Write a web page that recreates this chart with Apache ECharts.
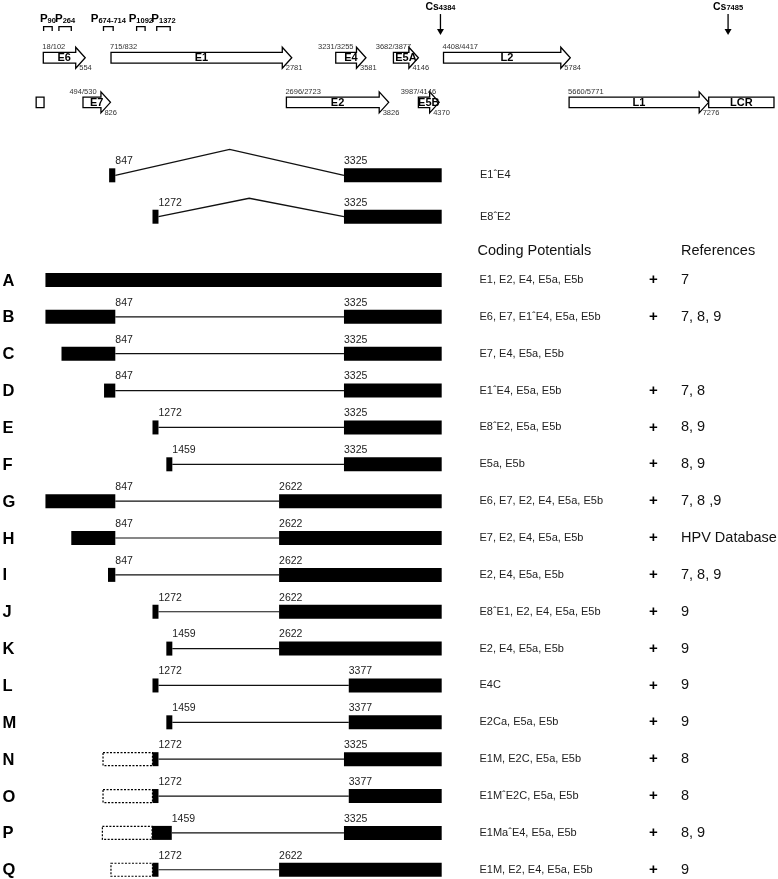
<!DOCTYPE html>
<html>
<head>
<meta charset="utf-8">
<script src="https://cdn.jsdelivr.net/npm/echarts@6/dist/echarts.min.js"></script>
<style>
html,body{margin:0;padding:0;background:#fff;}
#chart{width:778px;height:879px;}
</style>
</head>
<body>
<div id="chart"></div>
<script>
// ================= DATA =================
// Promoters (genome positions of the bracket marks)
const promoterLabels = ['90', '264', '674-714', '1092', '1372'];
const promoterStart  = [70, 236, 719, 1078, 1296];
const promoterEnd    = [163, 370, 824, 1170, 1442];

// Polyadenylation cleavage sites
const cleavageSites = [4384, 7485];

// Genome map features (ORFs and regions), track 0 = upper, track 1 = lower
const orfNames       = ['E6', 'E1', 'E4', 'E5A', 'L2', '', 'E7', 'E2', 'E5B', 'L1', 'LCR'];
const orfTrack       = [0, 0, 0, 0, 0, 1, 1, 1, 1, 1, 1];
const orfStart       = [102, 832, 3255, 3877, 4417, 25, 530, 2723, 4146, 5771, 7276];
const orfEnd         = [554, 2781, 3581, 4146, 5784, 110, 826, 3826, 4370, 7276, 7980];
const orfStartLabels = ['18/102', '715/832', '3231/3255', '3682/3877', '4408/4417', '', '494/530', '2696/2723', '3987/4146', '5660/5771', ''];
const orfEndLabels   = ['554', '2781', '3581', '4146', '5784', '', '826', '3826', '4370', '7276', ''];

// Splice junction diagrams
const spliceNames  = ['E1ˆE4', 'E8ˆE2'];
const spliceExons  = [
  [[780, 847], [3325, 4384]],
  [[1250, 1272], [3325, 4384]]
];

// Transcripts A–Q
const transcriptIds = ['A','B','C','D','E','F','G','H','I','J','K','L','M','N','O','P','Q'];
const transcriptExons = [
  [[90, 4384]],
  [[90, 847], [3325, 4384]],
  [[264, 847], [3325, 4384]],
  [[725, 847], [3325, 4384]],
  [[1250, 1272], [3325, 4384]],
  [[1400, 1459], [3325, 4384]],
  [[90, 847], [2622, 4384]],
  [[370, 847], [2622, 4384]],
  [[768, 847], [2622, 4384]],
  [[1250, 1272], [2622, 4384]],
  [[1400, 1459], [2622, 4384]],
  [[1250, 1272], [3377, 4384]],
  [[1400, 1459], [3377, 4384]],
  [[1250, 1272], [3325, 4384]],
  [[1250, 1272], [3377, 4384]],
  [[1245, 1459], [3325, 4384]],
  [[1250, 1272], [2622, 4384]]
];
// Putative (dashed) upstream regions
const transcriptDashed = [null, null, null, null, null, null, null, null, null, null, null, null, null,
  [714, 1250], [714, 1250], [707, 1245], [800, 1250]];

const codingPotentials = [
  'E1, E2, E4, E5a, E5b',
  'E6, E7, E1ˆE4, E5a, E5b',
  'E7, E4, E5a, E5b',
  'E1ˆE4, E5a, E5b',
  'E8ˆE2, E5a, E5b',
  'E5a, E5b',
  'E6, E7, E2, E4, E5a, E5b',
  'E7, E2, E4, E5a, E5b',
  'E2, E4, E5a, E5b',
  'E8ˆE1, E2, E4, E5a, E5b',
  'E2, E4, E5a, E5b',
  'E4C',
  'E2Ca, E5a, E5b',
  'E1M, E2C, E5a, E5b',
  'E1MˆE2C, E5a, E5b',
  'E1MaˆE4, E5a, E5b',
  'E1M, E2, E4, E5a, E5b'
];
const references = ['7', '7, 8, 9', '', '7, 8', '8, 9', '8, 9', '7, 8 ,9', 'HPV Database', '7, 8, 9',
  '9', '9', '9', '9', '8', '8', '8, 9', '9'];
const headerLabels = ['Coding Potentials', 'References'];

// ================= LAYOUT / STYLE =================
const W = 778, H = 879;
const FONT = "'Liberation Sans', Arial, Helvetica, sans-serif";
const ROW0_PX = 280, ROW_STEP = 36.86;
const Y_MIN = -ROW0_PX / ROW_STEP, Y_MAX = (H - ROW0_PX) / ROW_STEP;
const TX_OFF = 37.14, TX_SCALE = 0.09228;   // transcript axis
const MAP_OFF = 33.84, MAP_SCALE = 0.09275; // genome map axis

const Y_CS_LABEL = -7.265, Y_CS_TOP = -7.215, Y_CS_TIP = -6.647;
const Y_PROM_LABEL = -6.93, Y_BRACKET_TOP = -6.872, Y_BRACKET_BOT = -6.755;
const TRACK_Y = [-6.03, -4.82];
const SPLICE_Y = [-2.84, -1.717];
const SPLICE_PEAK = [0.705, 0.5];
const HEADER_Y = -0.795;

const EXON_H = 14, MIN_EXON_W = 6;
const BODY_H = 10.6, HEAD_H = 21, HEAD_L = 9.5;
const X_LETTER = 2.5, X_CODING = 479.5, X_PLUS = 653.5, X_REF = 681;

function txt(x, y, text, font, align, valign, fill) {
  return {
    type: 'text', x: x, y: y, silent: true,
    style: {
      text: text, font: font, fill: fill || '#000',
      align: align, verticalAlign: valign,
      textAlign: align, textVerticalAlign: valign
    }
  };
}

// ----- genome map -----
function renderOrf(params, api) {
  const i = params.dataIndex;
  const t = orfTrack[i];
  const yc = api.coord([0, TRACK_Y[t]])[1];
  const x0 = api.coord([orfStart[i], TRACK_Y[t]])[0];
  const x1 = api.coord([orfEnd[i], TRACK_Y[t]])[0];
  const children = [];
  const isBox = orfEndLabels[i] === '';
  if (isBox) {
    children.push({
      type: 'rect', shape: { x: x0, y: yc - BODY_H / 2, width: x1 - x0, height: BODY_H },
      style: { fill: '#fff', stroke: '#000', lineWidth: 1.3 }
    });
  } else {
    const hl = Math.min(HEAD_L, x1 - x0);
    const xb = x1 - hl;
    children.push({
      type: 'polygon',
      shape: { points: [[x0, yc - BODY_H / 2], [xb, yc - BODY_H / 2], [xb, yc - HEAD_H / 2], [x1, yc],
        [xb, yc + HEAD_H / 2], [xb, yc + BODY_H / 2], [x0, yc + BODY_H / 2]] },
      style: { fill: '#fff', stroke: '#000', lineWidth: 1.3 }
    });
    const shortArrow = (x1 - x0) < 35;
    children.push(txt(shortArrow ? x0 : x0 - 1, yc - BODY_H / 2 - 1.2, orfStartLabels[i],
      '7.5px ' + FONT, shortArrow ? 'center' : 'left', 'bottom', '#333'));
    children.push(txt(x1 - 6, yc + BODY_H / 2 + 1.2, orfEndLabels[i], '7.5px ' + FONT, 'left', 'top', '#333'));
  }
  if (orfNames[i]) {
    children.push(txt((x0 + x1) / 2, yc + 0.5, orfNames[i], 'bold 11px ' + FONT, 'center', 'middle', '#000'));
  }
  return { type: 'group', children: children };
}

function renderPromoter(params, api) {
  const i = params.dataIndex;
  const x0 = api.coord([promoterStart[i], Y_BRACKET_TOP])[0];
  const x1 = api.coord([promoterEnd[i], Y_BRACKET_TOP])[0];
  const yt = api.coord([0, Y_BRACKET_TOP])[1];
  const yb = api.coord([0, Y_BRACKET_BOT])[1];
  const yl = api.coord([0, Y_PROM_LABEL])[1];
  return {
    type: 'group', children: [
      { type: 'polyline', shape: { points: [[x0, yb], [x0, yt], [x1, yt], [x1, yb]] },
        style: { stroke: '#000', lineWidth: 1.3, fill: null } },
      { type: 'text', x: (x0 + x1) / 2, y: yl, silent: true,
        style: {
          text: '{p|P}{n|' + promoterLabels[i] + '}',
          align: 'center', verticalAlign: 'bottom', textAlign: 'center', textVerticalAlign: 'bottom',
          rich: {
            p: { fontSize: 11.5, fontWeight: 'bold', fontFamily: FONT, fill: '#000', verticalAlign: 'bottom' },
            n: { fontSize: 7.5, fontWeight: 'bold', fontFamily: FONT, fill: '#000', verticalAlign: 'bottom' }
          }
        } }
    ]
  };
}

function renderCleavage(params, api) {
  const i = params.dataIndex;
  const p0 = api.coord([cleavageSites[i], Y_CS_TOP]);
  const p1 = api.coord([cleavageSites[i], Y_CS_TIP]);
  const yl = api.coord([0, Y_CS_LABEL])[1];
  const x = p0[0];
  return {
    type: 'group', children: [
      { type: 'line', shape: { x1: x, y1: p0[1], x2: x, y2: p1[1] - 4 }, style: { stroke: '#000', lineWidth: 1.3 } },
      { type: 'polygon', shape: { points: [[x - 3.5, p1[1] - 6], [x + 3.5, p1[1] - 6], [x, p1[1]]] },
        style: { fill: '#000', stroke: null } },
      { type: 'text', x: x, y: yl, silent: true,
        style: {
          text: '{c|Cs}{n|' + cleavageSites[i] + '}',
          align: 'center', verticalAlign: 'bottom', textAlign: 'center', textVerticalAlign: 'bottom',
          rich: {
            c: { fontSize: 10.5, fontWeight: 'bold', fontFamily: FONT, fill: '#000', verticalAlign: 'bottom' },
            n: { fontSize: 7.5, fontWeight: 'bold', fontFamily: FONT, fill: '#000', verticalAlign: 'bottom' }
          }
        } }
    ]
  };
}

// ----- exon helpers -----
function drawExons(api, exons, rowY, children) {
  const yc = api.coord([0, rowY])[1];
  const drawn = exons.map(function (e) {
    const a = api.coord([e[0], rowY])[0];
    let b = api.coord([e[1], rowY])[0];
    if (b - a < MIN_EXON_W) b = a + MIN_EXON_W;
    return [a, b];
  });
  drawn.forEach(function (d) {
    children.push({ type: 'rect', shape: { x: d[0], y: yc - EXON_H / 2, width: d[1] - d[0], height: EXON_H },
      style: { fill: '#000', stroke: null } });
  });
  return { yc: yc, drawn: drawn };
}
function junctionLabels(exons, drawn, yc, children) {
  for (let k = 0; k < exons.length - 1; k++) {
    children.push(txt(drawn[k][1], yc - EXON_H / 2 - 1.5, String(exons[k][1]), '10.5px ' + FONT, 'left', 'bottom', '#222'));
    children.push(txt(drawn[k + 1][0], yc - EXON_H / 2 - 1.5, String(exons[k + 1][0]), '10.5px ' + FONT, 'left', 'bottom', '#222'));
  }
}

function renderSplice(params, api) {
  const i = params.dataIndex;
  const children = [];
  const exons = spliceExons[i];
  const rowY = SPLICE_Y[i];
  const r = drawExons(api, exons, rowY, children);
  const xa = r.drawn[0][1], xb = r.drawn[1][0];
  const midG = (exons[0][1] + exons[1][0]) / 2;
  const peak = api.coord([midG, rowY - SPLICE_PEAK[i]]);
  children.unshift({ type: 'polyline', shape: { points: [[xa, r.yc], peak, [xb, r.yc]] },
    style: { stroke: '#111', lineWidth: 1.3, fill: null } });
  junctionLabels(exons, r.drawn, r.yc, children);
  children.push(txt(X_CODING + 0.5, r.yc, spliceNames[i], '11px ' + FONT, 'left', 'middle', '#222'));
  return { type: 'group', children: children };
}

function renderTranscript(params, api) {
  const i = params.dataIndex;
  const children = [];
  const exons = transcriptExons[i];
  const yc0 = api.coord([0, i])[1];
  const d = transcriptDashed[i];
  if (d) {
    const a = api.coord([d[0], i])[0], b = api.coord([d[1], i])[0];
    children.push({ type: 'rect', shape: { x: a, y: yc0 - EXON_H / 2 + 0.5, width: b - a, height: EXON_H - 1 },
      style: { fill: 'none', stroke: '#000', lineWidth: 1.2, lineDash: [2, 1.5] } });
  }
  const r = drawExons(api, exons, i, children);
  for (let k = 0; k < r.drawn.length - 1; k++) {
    children.unshift({ type: 'line', shape: { x1: r.drawn[k][1], y1: r.yc, x2: r.drawn[k + 1][0], y2: r.yc },
      style: { stroke: '#111', lineWidth: 1.2 } });
  }
  junctionLabels(exons, r.drawn, r.yc, children);
  children.push(txt(X_LETTER, r.yc + 1, transcriptIds[i], 'bold 16.5px ' + FONT, 'left', 'middle', '#000'));
  children.push(txt(X_CODING, r.yc, codingPotentials[i], '11px ' + FONT, 'left', 'middle', '#222'));
  if (references[i]) {
    children.push(txt(X_PLUS, r.yc, '+', 'bold 15px ' + FONT, 'center', 'middle', '#000'));
    children.push(txt(X_REF, r.yc, references[i], '14.5px ' + FONT, 'left', 'middle', '#111'));
  }
  return { type: 'group', children: children };
}

function renderHeader(params, api) {
  const y = api.coord([0, HEADER_Y])[1];
  return { type: 'group', children: [
    txt(X_CODING - 2, y, headerLabels[0], '14.5px ' + FONT, 'left', 'middle', '#111'),
    txt(X_REF, y, headerLabels[1], '14.5px ' + FONT, 'left', 'middle', '#111')
  ] };
}

// ================= CHART =================
const chart = echarts.init(document.getElementById('chart'), null, { renderer: 'canvas', width: W, height: H });
const common = { type: 'custom', clip: false, silent: true, animation: false };
chart.setOption({
  animation: false,
  backgroundColor: '#fff',
  grid: { left: 0, right: 0, top: 0, bottom: 0, containLabel: false },
  xAxis: [
    { type: 'value', min: -TX_OFF / TX_SCALE, max: (W - TX_OFF) / TX_SCALE, show: false, gridIndex: 0 },
    { type: 'value', min: -MAP_OFF / MAP_SCALE, max: (W - MAP_OFF) / MAP_SCALE, show: false, gridIndex: 0 }
  ],
  yAxis: [{ type: 'value', min: Y_MIN, max: Y_MAX, inverse: true, show: false }],
  series: [
    Object.assign({}, common, { name: 'map', xAxisIndex: 1, renderItem: renderOrf,
      data: orfStart.map(function (s, i) { return [s, TRACK_Y[orfTrack[i]]]; }) }),
    Object.assign({}, common, { name: 'promoters', xAxisIndex: 0, renderItem: renderPromoter,
      data: promoterStart.map(function (s) { return [s, Y_BRACKET_TOP]; }) }),
    Object.assign({}, common, { name: 'cleavage', xAxisIndex: 1, renderItem: renderCleavage,
      data: cleavageSites.map(function (s) { return [s, Y_CS_TOP]; }) }),
    Object.assign({}, common, { name: 'splice', xAxisIndex: 0, renderItem: renderSplice,
      data: spliceNames.map(function (n, i) { return [spliceExons[i][0][0], SPLICE_Y[i]]; }) }),
    Object.assign({}, common, { name: 'header', xAxisIndex: 0, renderItem: renderHeader,
      data: [[0, HEADER_Y]] }),
    Object.assign({}, common, { name: 'transcripts', xAxisIndex: 0, renderItem: renderTranscript,
      data: transcriptIds.map(function (id, i) { return [transcriptExons[i][0][0], i]; }) })
  ]
});
</script>
</body>
</html>
